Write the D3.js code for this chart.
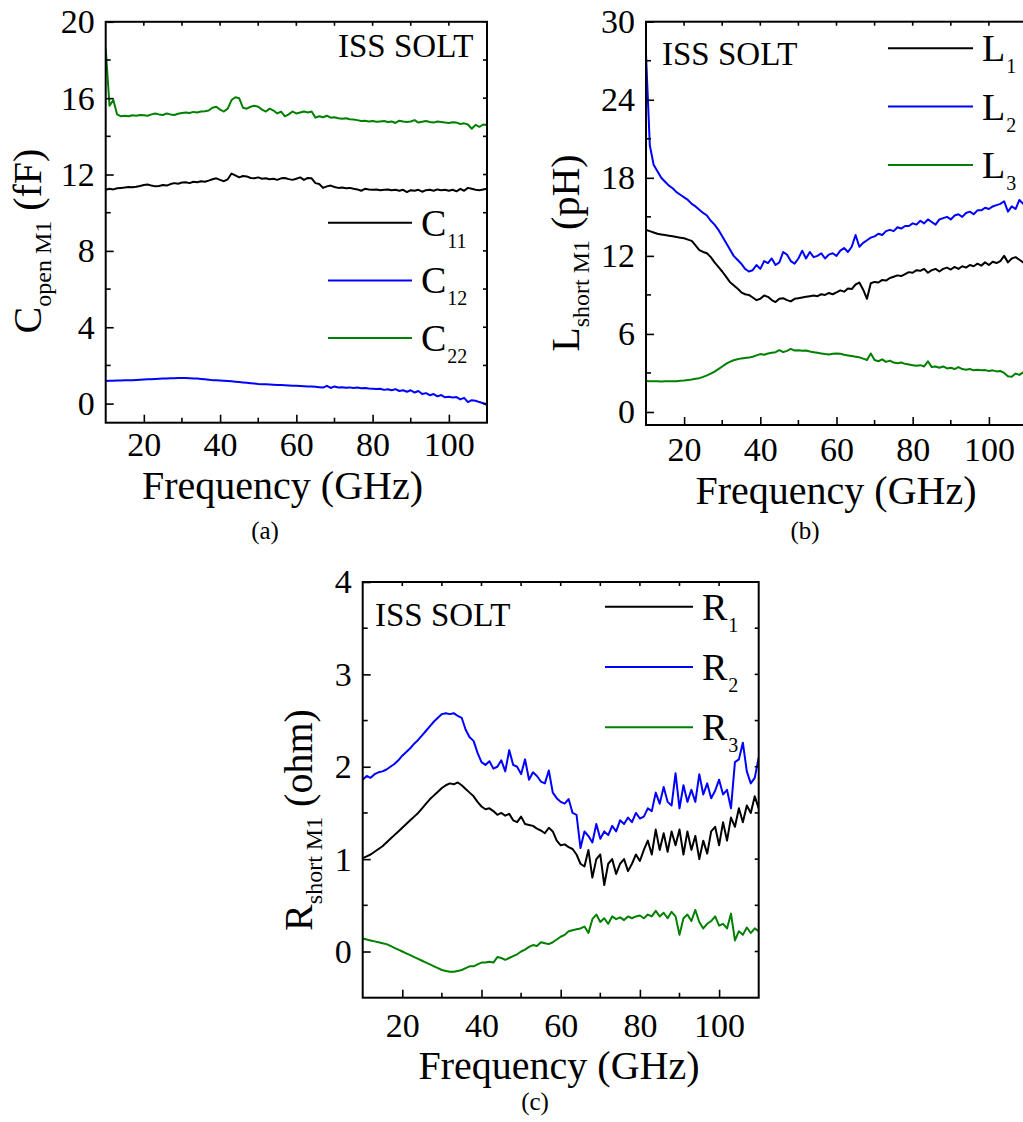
<!DOCTYPE html>
<html>
<head>
<meta charset="utf-8">
<script src="https://cdn.jsdelivr.net/npm/d3@7"></script>
<style>
  html, body { margin: 0; padding: 0; background: #ffffff; }
</style>
</head>
<body>
<svg id="fig" width="1023" height="1122"></svg>
<script>
// Frequency grid, GHz (1 GHz steps from 10 to 110)
const freq = d3.range(10, 111, 1);

// (a) open-structure capacitances, fF
const c11 = [11.2,11.25,11.22,11.28,11.3,11.32,11.35,11.33,11.36,11.4,11.45,11.48,11.42,11.38,11.4,11.45,11.42,11.5,11.55,11.52,
  11.58,11.6,11.55,11.62,11.6,11.65,11.62,11.68,11.75,11.8,11.72,11.65,11.75,12.05,11.95,11.85,11.92,11.9,11.82,11.8,
  11.85,11.78,11.8,11.75,11.78,11.72,11.8,11.82,11.76,11.72,11.78,11.85,11.72,11.82,11.8,11.55,11.5,11.3,11.38,11.42,
  11.35,11.3,11.32,11.28,11.3,11.25,11.22,11.15,11.25,11.22,11.2,11.22,11.18,11.2,11.22,11.18,11.2,11.15,11.2,11.08,
  11.18,11.15,11.2,11.1,11.18,11.2,11.15,11.22,11.18,11.2,11.15,11.2,11.12,11.25,11.15,11.3,11.25,11.2,11.18,11.22,11.25];
const c12 = [1.19,1.2,1.2,1.21,1.21,1.22,1.22,1.23,1.24,1.25,1.26,1.27,1.28,1.29,1.3,1.31,1.32,1.33,1.33,1.34,
  1.34,1.34,1.33,1.32,1.31,1.29,1.27,1.25,1.23,1.22,1.21,1.2,1.19,1.17,1.15,1.13,1.11,1.09,1.07,1.05,
  1.03,1.02,1.01,1.0,0.99,0.98,0.97,0.96,0.95,0.94,0.93,0.92,0.91,0.9,0.89,0.88,0.86,0.84,0.93,0.82,
  0.9,0.84,0.86,0.83,0.85,0.82,0.84,0.8,0.82,0.79,0.78,0.76,0.78,0.72,0.75,0.7,0.76,0.66,0.7,0.62,
  0.7,0.58,0.66,0.5,0.55,0.44,0.5,0.38,0.45,0.33,0.36,0.32,0.34,0.22,0.3,0.08,0.18,0.15,0.08,0.02,-0.08];
const c22 = [18.6,15.6,15.9,15.15,15.05,15.08,15.05,15.1,15.08,15.12,15.1,15.08,15.15,15.2,15.15,15.12,15.2,15.15,15.12,15.18,
  15.22,15.25,15.22,15.28,15.25,15.3,15.32,15.35,15.5,15.55,15.4,15.3,15.45,15.9,16.05,16.0,15.5,15.45,15.55,15.6,
  15.55,15.4,15.3,15.45,15.35,15.2,15.3,15.05,15.15,15.3,15.2,15.25,15.3,15.25,15.3,14.98,15.05,15.0,15.08,14.98,
  15.0,14.95,14.92,14.95,14.9,14.88,14.85,14.8,14.82,14.78,14.8,14.76,14.78,14.8,14.75,14.78,14.7,14.82,14.78,14.75,
  14.78,14.85,14.72,14.76,14.8,14.75,14.72,14.78,14.75,14.72,14.7,14.74,14.72,14.65,14.68,14.62,14.4,14.6,14.5,14.62,14.6];

// (b) short-structure inductances, pH
const l1 = [14.0,13.9,13.8,13.7,13.65,13.6,13.55,13.5,13.45,13.4,13.35,13.25,13.15,12.8,12.45,12.3,12.2,11.9,11.5,11.15,
  10.8,10.4,10.0,9.75,9.5,9.2,9.05,9.0,8.8,8.6,8.7,8.95,8.85,8.6,8.45,8.7,8.75,8.6,8.5,8.7,
  8.75,8.8,8.85,8.9,8.95,8.9,9.05,9.0,9.15,9.05,9.2,9.35,9.25,9.5,9.45,9.8,9.95,9.4,8.7,9.9,
  10.0,9.95,10.15,10.1,10.3,10.4,10.5,10.45,10.6,10.75,10.7,10.9,10.85,11.0,10.7,10.9,11.0,10.8,11.0,11.1,
  10.95,11.15,11.0,11.2,11.1,11.3,11.2,11.4,11.25,11.5,11.3,11.55,11.45,11.6,12.0,11.5,11.8,11.9,11.7,11.5,11.9];
const l2 = [27.5,20.5,19.0,18.5,18.0,17.7,17.4,17.2,16.9,16.7,16.5,16.3,16.0,15.8,15.55,15.3,15.1,14.7,14.4,14.0,
  13.5,13.0,12.5,12.0,11.7,11.4,11.0,10.8,10.9,11.3,11.0,11.6,11.45,11.8,11.3,11.5,12.3,12.1,11.6,11.4,
  11.8,12.4,11.8,12.3,11.9,12.0,12.2,11.8,12.1,12.2,12.0,12.4,12.6,12.3,12.7,13.6,12.7,13.0,13.2,13.4,
  13.5,13.7,13.6,13.9,14.0,13.9,14.2,14.1,14.3,14.3,14.5,14.4,14.7,14.5,14.8,14.6,14.4,14.8,14.9,15.0,
  14.8,15.1,15.2,15.0,15.3,15.4,15.2,15.5,15.5,15.7,15.6,15.8,15.9,16.0,16.2,15.4,15.8,15.6,16.3,16.0,16.5];
const l3 = [2.38,2.37,2.36,2.36,2.35,2.36,2.36,2.37,2.37,2.4,2.42,2.46,2.5,2.55,2.6,2.7,2.82,2.95,3.1,3.3,
  3.5,3.7,3.85,3.98,4.05,4.12,4.15,4.18,4.25,4.35,4.45,4.4,4.5,4.55,4.6,4.75,4.6,4.7,4.85,4.72,
  4.75,4.7,4.72,4.65,4.6,4.55,4.5,4.45,4.42,4.48,4.5,4.48,4.4,4.35,4.3,4.25,4.2,4.1,4.0,4.5,
  4.0,3.9,4.05,3.85,3.95,3.8,3.75,3.8,3.7,3.65,3.6,3.55,3.6,3.5,3.9,3.45,3.5,3.4,3.5,3.35,
  3.4,3.3,3.45,3.3,3.25,3.3,3.2,3.25,3.2,3.22,3.15,3.2,3.12,3.15,3.0,2.75,2.7,2.95,2.85,3.05,2.95];

// (c) short-structure resistances, ohm
const r1 = [1.01,1.03,1.05,1.08,1.11,1.14,1.18,1.22,1.26,1.3,1.34,1.38,1.42,1.46,1.5,1.55,1.6,1.65,1.69,1.73,
  1.77,1.8,1.82,1.81,1.83,1.8,1.76,1.72,1.68,1.62,1.57,1.54,1.55,1.52,1.48,1.5,1.47,1.49,1.42,1.4,
  1.46,1.38,1.37,1.36,1.33,1.31,1.28,1.34,1.3,1.2,1.15,1.16,1.13,1.11,1.05,0.95,0.92,1.1,0.8,1.0,
  1.05,0.72,0.95,1.0,0.84,0.95,1.0,0.87,0.95,1.05,0.98,1.1,1.2,1.05,1.32,1.1,1.28,1.08,1.3,1.15,
  1.32,1.05,1.3,1.1,1.25,1.0,1.2,1.06,1.3,1.35,1.15,1.4,1.2,1.45,1.35,1.55,1.4,1.58,1.5,1.68,1.55];
const r2 = [1.86,1.9,1.88,1.92,1.94,1.95,1.97,2.0,2.03,2.07,2.12,2.16,2.2,2.25,2.29,2.34,2.39,2.44,2.49,2.53,
  2.57,2.58,2.57,2.58,2.55,2.53,2.4,2.32,2.28,2.15,2.05,2.02,2.06,1.98,2.0,2.07,1.95,2.18,2.02,2.0,
  1.92,2.08,1.86,1.94,1.9,1.84,1.82,1.96,1.72,1.66,1.62,1.6,1.65,1.5,1.48,1.12,1.3,1.25,1.18,1.38,
  1.22,1.3,1.26,1.36,1.3,1.42,1.38,1.45,1.4,1.5,1.44,1.46,1.55,1.52,1.72,1.6,1.78,1.62,1.58,1.93,
  1.55,1.8,1.62,1.75,1.62,1.92,1.7,1.82,1.66,1.74,1.86,1.7,1.75,1.55,2.05,2.08,2.26,1.95,1.82,1.88,2.1];
const r3 = [0.14,0.13,0.12,0.11,0.1,0.09,0.08,0.06,0.04,0.02,0.0,-0.02,-0.04,-0.06,-0.08,-0.1,-0.12,-0.14,-0.16,-0.18,
  -0.2,-0.21,-0.22,-0.22,-0.21,-0.2,-0.18,-0.16,-0.16,-0.14,-0.12,-0.12,-0.11,-0.12,-0.06,-0.07,-0.09,-0.07,-0.05,-0.03,
  0.0,0.02,0.05,0.07,0.06,0.1,0.09,0.08,0.1,0.13,0.16,0.18,0.22,0.23,0.24,0.25,0.27,0.2,0.35,0.4,
  0.32,0.36,0.3,0.38,0.35,0.37,0.34,0.38,0.36,0.38,0.39,0.36,0.4,0.38,0.44,0.38,0.42,0.36,0.43,0.38,
  0.18,0.36,0.4,0.33,0.45,0.32,0.25,0.3,0.33,0.38,0.28,0.3,0.25,0.41,0.12,0.22,0.18,0.26,0.2,0.25,0.22];

// Tick values
const xMajor = [20, 40, 60, 80, 100];
const xMinor = [30, 50, 70, 90];
const yMajorA = [0, 4, 8, 12, 16, 20],  yMinorA = [2, 6, 10, 14, 18];
const yMajorB = [0, 6, 12, 18, 24, 30], yMinorB = [3, 9, 15, 21, 27];
const yMajorC = [0, 1, 2, 3, 4],        yMinorC = [0.5, 1.5, 2.5, 3.5];

const FONT = "Liberation Serif";
const BLACK = "#000000", BLUE = "#0000ff", GREEN = "#008000";

const panels = [
  {
    box: {l: 105.7, t: 21.8, r: 487, b: 422.7}, xDomain: [10, 110], yDomain: [-1, 20],
    yMajor: yMajorA, yMinor: yMinorA, xLabelPad: 9,
    series: [{name: "C", sub: "11", values: c11, color: BLACK},
             {name: "C", sub: "12", values: c12, color: BLUE},
             {name: "C", sub: "22", values: c22, color: GREEN}],
    drawOrder: [1, 0, 2],
    legend: {x1: 328, x2: 412, y0: 222.7, dy: 57.7, tx: 421},
    tag: {x: 338, y: 57},
    yTitle: {main: "C", sub: "open M1", unit: " (fF)", x: 41, y: 241},
    xTitle: {x: 282.5, y: 499},
    caption: {text: "(a)", x: 265, y: 539}
  },
  {
    box: {l: 646, t: 21.7, r: 1027, b: 425}, xDomain: [10, 110], yDomain: [-1, 30],
    yMajor: yMajorB, yMinor: yMinorB, xLabelPad: 12,
    series: [{name: "L", sub: "1", values: l1, color: BLACK},
             {name: "L", sub: "2", values: l2, color: BLUE},
             {name: "L", sub: "3", values: l3, color: GREEN}],
    drawOrder: [2, 0, 1],
    legend: {x1: 888, x2: 973, y0: 48.3, dy: 58.3, tx: 982},
    tag: {x: 662, y: 65},
    yTitle: {main: "L", sub: "short M1", unit: " (pH)", x: 579, y: 253},
    xTitle: {x: 836, y: 504},
    caption: {text: "(b)", x: 805, y: 539}
  },
  {
    box: {l: 362.7, t: 582, r: 758.7, b: 997.7}, xDomain: [10, 110], yDomain: [-0.5, 4],
    yMajor: yMajorC, yMinor: yMinorC, xLabelPad: 15,
    series: [{name: "R", sub: "1", values: r1, color: BLACK},
             {name: "R", sub: "2", values: r2, color: BLUE},
             {name: "R", sub: "3", values: r3, color: GREEN}],
    drawOrder: [2, 1, 0],
    legend: {x1: 605, x2: 693, y0: 606.7, dy: 60.3, tx: 702},
    tag: {x: 375, y: 626},
    yTitle: {main: "R", sub: "short M1", unit: " (ohm)", x: 312, y: 820},
    xTitle: {x: 559, y: 1079},
    caption: {text: "(c)", x: 535, y: 1110}
  }
];

const svg = d3.select("#fig").attr("font-family", FONT);
svg.append("rect").attr("width", 1023).attr("height", 1122).attr("fill", "#fff");
const defs = svg.append("defs");

// bare tick marks (no labels) along one side of a frame
function tickMarks(g, scale, values, orient, pos, len) {
  g.append("g").selectAll("line").data(values).join("line")
    .attr("x1", d => orient === "h" ? scale(d) : pos)
    .attr("x2", d => orient === "h" ? scale(d) : pos + len)
    .attr("y1", d => orient === "h" ? pos : scale(d))
    .attr("y2", d => orient === "h" ? pos + len : scale(d))
    .attr("stroke", "#000").attr("stroke-width", 1.6);
}

panels.forEach((p, i) => {
  const {l, t, r, b} = p.box;
  const x = d3.scaleLinear().domain(p.xDomain).range([l, r]);
  const y = d3.scaleLinear().domain(p.yDomain).range([b, t]);
  const g = svg.append("g");

  // clip region for the curves
  const clipId = "clip" + i;
  defs.append("clipPath").attr("id", clipId)
    .append("rect").attr("x", l).attr("y", t).attr("width", r - l).attr("height", b - t);

  // curves
  const line = d3.line().x((d, k) => x(freq[k])).y(d => y(d));
  const curves = g.append("g").attr("clip-path", `url(#${clipId})`);
  p.drawOrder.forEach(k => {
    const s = p.series[k];
    curves.append("path").datum(s.values)
      .attr("d", line).attr("fill", "none")
      .attr("stroke", s.color).attr("stroke-width", 2).attr("stroke-linejoin", "round");
  });

  // bottom and left axes with inward major ticks and labels
  const bottom = g.append("g").attr("transform", `translate(0,${b})`)
    .call(d3.axisBottom(x).tickValues(xMajor).tickSize(-8).tickPadding(p.xLabelPad).tickFormat(d3.format("d")));
  const left = g.append("g").attr("transform", `translate(${l},0)`)
    .call(d3.axisLeft(y).tickValues(p.yMajor).tickSize(-8).tickPadding(11).tickFormat(d3.format("d")));
  [bottom, left].forEach(ax => {
    ax.attr("font-family", FONT).attr("font-size", 34);
    ax.select(".domain").remove();
    ax.selectAll(".tick line").attr("stroke-width", 1.6);
    ax.selectAll("text").attr("fill", "#000");
  });
  // minor ticks on bottom/left, short ticks on top/right
  tickMarks(g, x, xMinor, "h", b, -5);
  tickMarks(g, y, p.yMinor, "v", l, 5);
  tickMarks(g, x, xMajor.concat(xMinor), "h", t, 4);
  tickMarks(g, y, p.yMajor.concat(p.yMinor), "v", r, -4);

  // frame
  g.append("rect").attr("x", l).attr("y", t).attr("width", r - l).attr("height", b - t)
    .attr("fill", "none").attr("stroke", "#000").attr("stroke-width", 2);

  // legend
  p.series.forEach((s, k) => {
    const ly = p.legend.y0 + k * p.legend.dy;
    g.append("line").attr("x1", p.legend.x1).attr("x2", p.legend.x2)
      .attr("y1", ly).attr("y2", ly).attr("stroke", s.color).attr("stroke-width", 2);
    const tx = g.append("text").attr("x", p.legend.tx).attr("y", ly + 13)
      .attr("font-size", 38).attr("fill", "#000");
    tx.append("tspan").text(s.name);
    tx.append("tspan").attr("dy", 12).attr("dx", 1).attr("font-size", 20).text(s.sub);
  });

  // calibration tag
  g.append("text").attr("x", p.tag.x).attr("y", p.tag.y)
    .attr("font-size", 33).attr("fill", "#000").text("ISS SOLT");

  // y-axis title
  const yt = g.append("text")
    .attr("transform", `translate(${p.yTitle.x},${p.yTitle.y}) rotate(-90)`)
    .attr("text-anchor", "middle").attr("font-size", 40).attr("fill", "#000");
  yt.append("tspan").text(p.yTitle.main);
  yt.append("tspan").attr("dy", 10).attr("font-size", 24).text(p.yTitle.sub);
  yt.append("tspan").attr("dy", -10).text(p.yTitle.unit);

  // x-axis title
  g.append("text").attr("x", p.xTitle.x).attr("y", p.xTitle.y)
    .attr("text-anchor", "middle").attr("font-size", 40).attr("fill", "#000")
    .text("Frequency (GHz)");

  // panel caption
  g.append("text").attr("x", p.caption.x).attr("y", p.caption.y)
    .attr("text-anchor", "middle").attr("font-size", 25).attr("fill", "#000")
    .text(p.caption.text);
});
</script>
</body>
</html>
